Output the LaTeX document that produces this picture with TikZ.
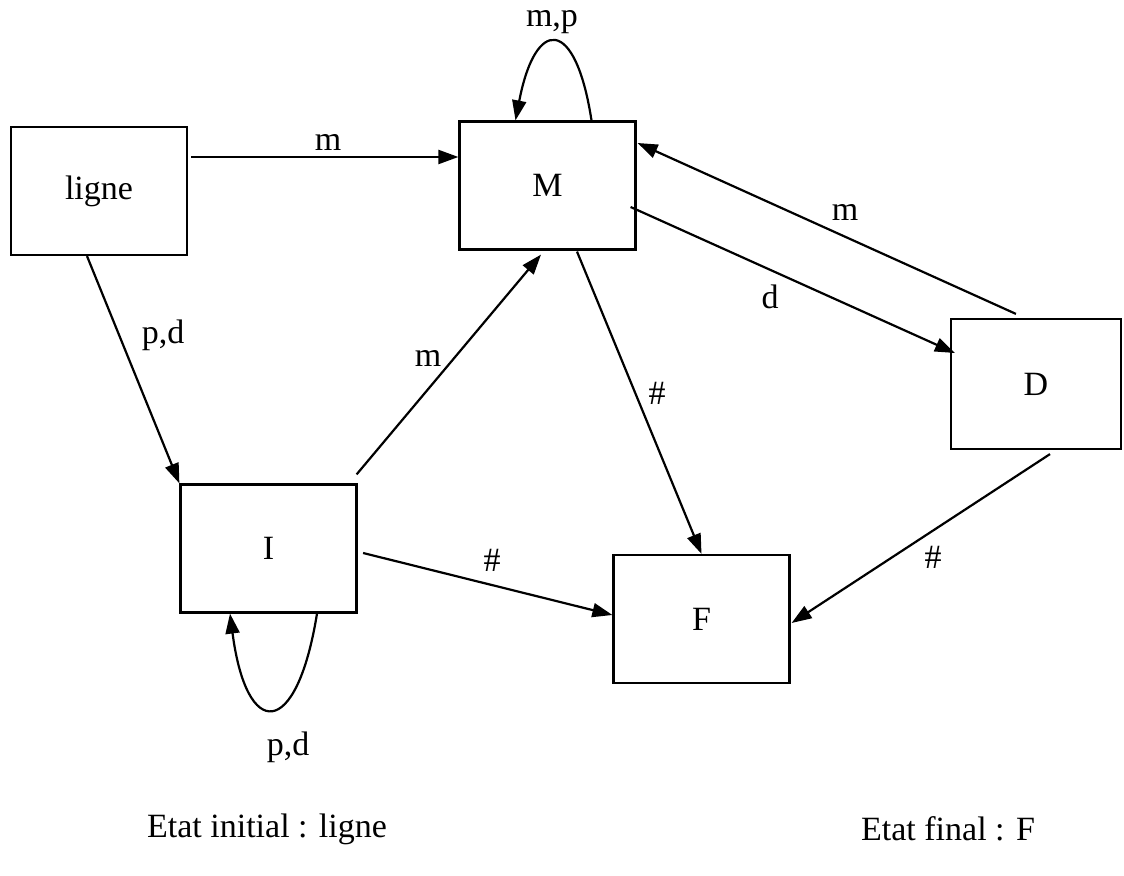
\documentclass[tikz,border=0pt]{standalone}
\usepackage{fontspec}
\setmainfont{Liberation Serif}
\usetikzlibrary{arrows.meta,calc}

\begin{document}
\begin{tikzpicture}[x=0.5pt, y=-0.5pt, line width=1.1pt, every node/.style={font=\fontsize{17}{20}\selectfont},
  state/.style={draw, minimum width=88pt, minimum height=64pt, inner sep=0pt},
  lbl/.style={inner sep=1pt},
  arr/.style={-{Triangle[length=10pt,width=7pt]}}]
\useasboundingbox (0,0) rectangle (1124,876);
% states
\node[state] (ligne) at (99,191) {ligne};
\node[state] (M) at (547.5,185.5) {M};
\node[state, minimum width=85pt, minimum height=65pt] (D) at (1036,384) {D};
\node[state] (I) at (268.5,548.5) {I};
\node[state] (F) at (701.5,619) {F};
% transitions
\draw[arr] ($(ligne.east)+(3,-34)$) -- ($(M.west)+(0,-28.5)$);
\draw[arr] ($(ligne.south)+(-12,0)$) -- (I.north west);
\draw[arr] ($(I.north east)+(-1,-9)$) -- ($(M.south)+(-6.5,4)$);
\draw[arr] ($(I.east)+(5.5,4.5)$) -- ($(F.west)+(0,-4)$);
\draw[arr] ($(M.south)+(29.5,1)$) -- (F.north);
\draw[arr] ($(M.east)+(-6,21.5)$) -- ($(D.west)+(5,-31)$);
\draw[arr] ($(D.north west)+(66,-4)$) -- ($(M.east)+(1,-42.5)$);
\draw[arr] ($(D.south)+(14,4)$) -- ($(F.east)+(1,4)$);
% loops
\draw[arr] ($(M.north)+(44,0)$) .. controls ($(M.north)+(28,-104)$) and ($(M.north)+(-12,-104)$) .. ($(M.north)+(-32,0)$);
\draw[arr] ($(I.south)+(48.5,0)$) .. controls ($(I.south)+(28,127)$) and ($(I.south)+(-22,127)$) .. ($(I.south)+(-38.5,0)$);
% labels
\node[lbl] (lm1) at (328,142) {m};
\node[lbl] (lpd1) at (163,335) {p,d};
\node[lbl] (lm2) at (428,358) {m};
\node[lbl] (lh1) at (492,560) {\#};
\node[lbl] (lh2) at (657,393) {\#};
\node[lbl] (ld) at (770,297) {d};
\node[lbl] (lm3) at (845,212) {m};
\node[lbl] (lh3) at (933,557) {\#};
\node[lbl] (lmp) at (552,22) {m,p};
\node[lbl] (lpd2) at (288,747) {p,d};
% legend
\node (init) at (267,829) {Etat initial : ligne};
\node (final) at (948,829) {Etat final : F};
\end{tikzpicture}
\end{document}
